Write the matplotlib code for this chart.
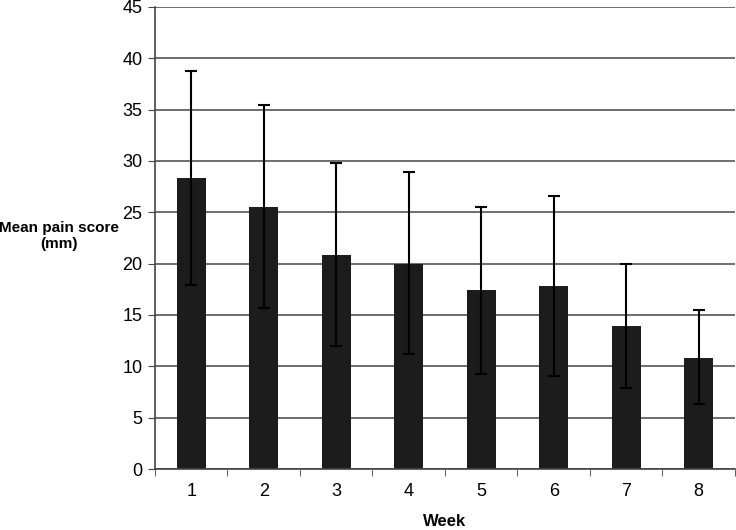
import numpy as np
import matplotlib.pyplot as plt

plt.rcParams['font.family'] = ['Liberation Sans', 'DejaVu Sans']

weeks = ['1', '2', '3', '4', '5', '6', '7', '8']
mean_score = [28.3, 25.5, 20.8, 20.0, 17.4, 17.85, 13.9, 10.8]
err_low = [17.9, 15.7, 12.0, 11.2, 9.3, 9.1, 7.9, 6.3]
err_high = [38.75, 35.4, 29.8, 28.95, 25.5, 26.6, 20.0, 15.5]

x = np.arange(1, len(weeks) + 1)
mean = np.array(mean_score)
yerr = [mean - np.array(err_low), np.array(err_high) - mean]

fig = plt.figure(figsize=(7.36, 5.30), dpi=100)
ax = fig.add_axes([0.2106, 0.115, 0.788, 0.872])

ax.bar(x, mean, width=0.4, color='#1c1c1c', zorder=2)
ax.errorbar(x, mean, yerr=yerr, fmt='none', ecolor='black', elinewidth=1.5,
            capsize=4, capthick=1.5, zorder=3)

ax.set_xlim(0.5, 8.5)
ax.set_ylim(0, 45)
ax.set_yticks(np.arange(0, 46, 5))
ax.set_xticks(x)
ax.set_xticklabels(weeks)
ax.set_xticks(np.arange(0.5, 9, 1), minor=True)
ax.tick_params(axis='x', which='major', length=0, pad=10, labelsize=13)
ax.tick_params(axis='x', which='minor', length=5, direction='out', color='#444444')
ax.tick_params(axis='y', length=5, direction='out', color='#444444', labelsize=13, pad=4)

ax.yaxis.grid(True, color='#555555', linewidth=1.2, zorder=0)
ax.set_axisbelow(True)
for s in ['top', 'right']:
    ax.spines[s].set_visible(False)
ax.spines['left'].set_color('#444444')
ax.spines['bottom'].set_color('#444444')
ax.spines['left'].set_linewidth(1.2)
ax.spines['bottom'].set_linewidth(1.2)

fig.text(0.08, 0.555, 'Mean pain score\n(mm)', ha='center', va='center',
         fontsize=11, fontweight='bold', linespacing=1.15)
ax.set_xlabel('Week', fontsize=12, fontweight='bold', labelpad=10)

fig.savefig('out.png', dpi=100)
